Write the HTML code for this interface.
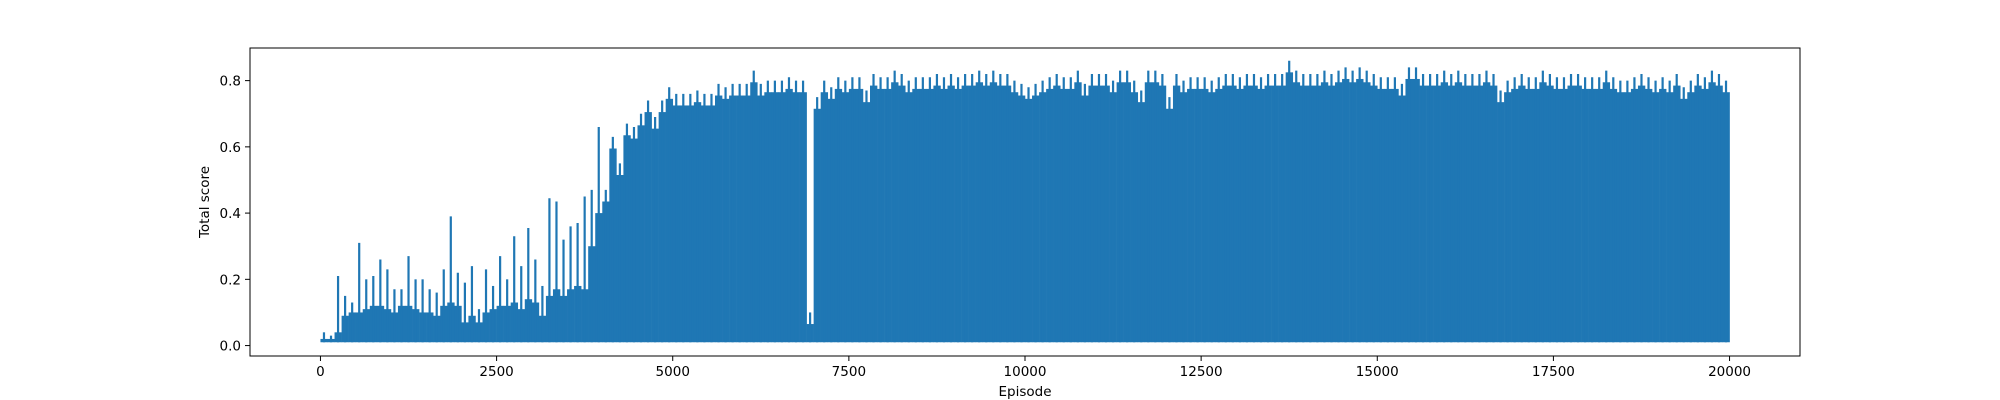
<!DOCTYPE html>
<html><head><meta charset="utf-8">
<style>
html,body{margin:0;padding:0;background:#fff;}
svg{display:block;font-family:"DejaVu Sans","Liberation Sans",sans-serif;}
</style></head>
<body>
<svg id="chart" width="2000" height="400" viewBox="0 0 2000 400" xmlns="http://www.w3.org/2000/svg">
<rect x="0" y="0" width="2000" height="400" fill="#fff"/>
<g id="marks"></g>
<g id="axes"></g>
</svg>
<script>
const binSize = 100;
const peaks = [
0.04,0.03,0.21,0.15,0.13,0.31,0.20,0.21,0.26,0.23,
0.17,0.17,0.27,0.20,0.20,0.17,0.16,0.23,0.39,0.22,
0.19,0.24,0.11,0.23,0.18,0.27,0.20,0.33,0.24,0.355,
0.26,0.18,0.445,0.435,0.32,0.36,0.37,0.45,0.47,0.66,
0.47,0.63,0.55,0.67,0.66,0.70,0.74,0.69,0.74,0.78,
0.76,0.76,0.76,0.77,0.76,0.76,0.79,0.78,0.79,0.79,
0.79,0.83,0.79,0.80,0.80,0.80,0.81,0.80,0.80,0.10,
0.75,0.80,0.78,0.81,0.80,0.81,0.81,0.77,0.82,0.81,
0.81,0.83,0.82,0.80,0.81,0.81,0.81,0.82,0.81,0.82,
0.81,0.82,0.82,0.83,0.82,0.83,0.82,0.82,0.80,0.79,
0.78,0.79,0.80,0.81,0.82,0.81,0.81,0.83,0.79,0.82,
0.82,0.82,0.80,0.83,0.83,0.80,0.77,0.83,0.83,0.82,
0.75,0.82,0.80,0.81,0.81,0.81,0.80,0.81,0.82,0.82,
0.81,0.82,0.82,0.81,0.82,0.82,0.82,0.86,0.83,0.82,
0.82,0.82,0.83,0.82,0.83,0.84,0.83,0.84,0.83,0.82,
0.81,0.81,0.81,0.79,0.84,0.84,0.82,0.82,0.82,0.83,
0.82,0.83,0.82,0.82,0.82,0.83,0.82,0.77,0.80,0.81,
0.82,0.81,0.81,0.83,0.82,0.81,0.81,0.82,0.82,0.81,
0.81,0.81,0.83,0.81,0.80,0.80,0.81,0.82,0.81,0.80,
0.81,0.80,0.82,0.78,0.80,0.82,0.81,0.83,0.82,0.80
];
const earlyBody = [
0.02,0.02,0.04,0.09,0.10,0.10,0.11,0.12,0.12,0.11,
0.10,0.12,0.12,0.11,0.10,0.10,0.09,0.12,0.13,0.12,
0.07,0.09,0.07,0.10,0.11,0.12,0.12,0.13,0.11,0.14,
0.13,0.09,0.15,0.17,0.15,0.17,0.18,0.17,0.30,0.40
];
const minScore = 0.01;
const xTicks = [0,2500,5000,7500,10000,12500,15000,17500,20000];
const yTicks = [0.0,0.2,0.4,0.6,0.8];

const L=250,R=1800,T=48,B=356;
const xMin=-1000,xMax=21000,yMin=-0.0315,yMax=0.8985;
function xs(v){return L+(v-xMin)/(xMax-xMin)*(R-L);}
function ys(v){return B-(v-yMin)/(yMax-yMin)*(B-T);}
const NS="http://www.w3.org/2000/svg";
const marks=document.getElementById('marks');
const axes=document.getElementById('axes');
function mk(tag,attrs,parent){const e=document.createElementNS(NS,tag);for(const k in attrs)e.setAttribute(k,attrs[k]);parent.appendChild(e);return e;}

peaks.forEach((p,i)=>{
  const x0=xs(i*binSize), x1=xs((i+1)*binSize);
  const body = i<earlyBody.length ? earlyBody[i] : Math.max(minScore, p-0.035);
  const r=mk('rect',{x:x0,y:ys(body),width:(x1-x0)+0.3,height:ys(minScore)-ys(body),fill:'#1f77b4'},marks);
  
  
  if(p>body){
    const xm=(x0+x1)/2;
    const l=mk('line',{x1:xm,x2:xm,y1:ys(minScore),y2:ys(p),stroke:'#1f77b4','stroke-width':2.2},marks);
    
    
  }
});

const frame=mk('rect',{x:L,y:T,width:R-L,height:B-T,fill:'none',stroke:'#000','stroke-width':1},axes);



xTicks.forEach(t=>{
  const x=xs(t);
  const tk=mk('line',{x1:x,x2:x,y1:B,y2:B+5,stroke:'#000','stroke-width':1},axes);
  
  
  const tx=mk('text',{x:x,y:B+20,'text-anchor':'middle','font-size':'13.5',fill:'#000'},axes);
  tx.textContent=String(t);
  
  
});
yTicks.forEach(t=>{
  const y=ys(t);
  const tk=mk('line',{x1:L-5,x2:L,y1:y,y2:y,stroke:'#000','stroke-width':1},axes);
  
  
  const tx=mk('text',{x:L-9,y:y+5,'text-anchor':'end','font-size':'13.5',fill:'#000'},axes);
  tx.textContent=t.toFixed(1);
  
  
});
const xl=mk('text',{x:(L+R)/2,y:396,'text-anchor':'middle','font-size':'13.5',fill:'#000'},axes);
xl.textContent='Episode';


const yl=mk('text',{x:0,y:0,'text-anchor':'middle','font-size':'13.5',fill:'#000',transform:'translate(209,'+((T+B)/2)+') rotate(-90)'},axes);
yl.textContent='Total score';


</script>
</body></html>
